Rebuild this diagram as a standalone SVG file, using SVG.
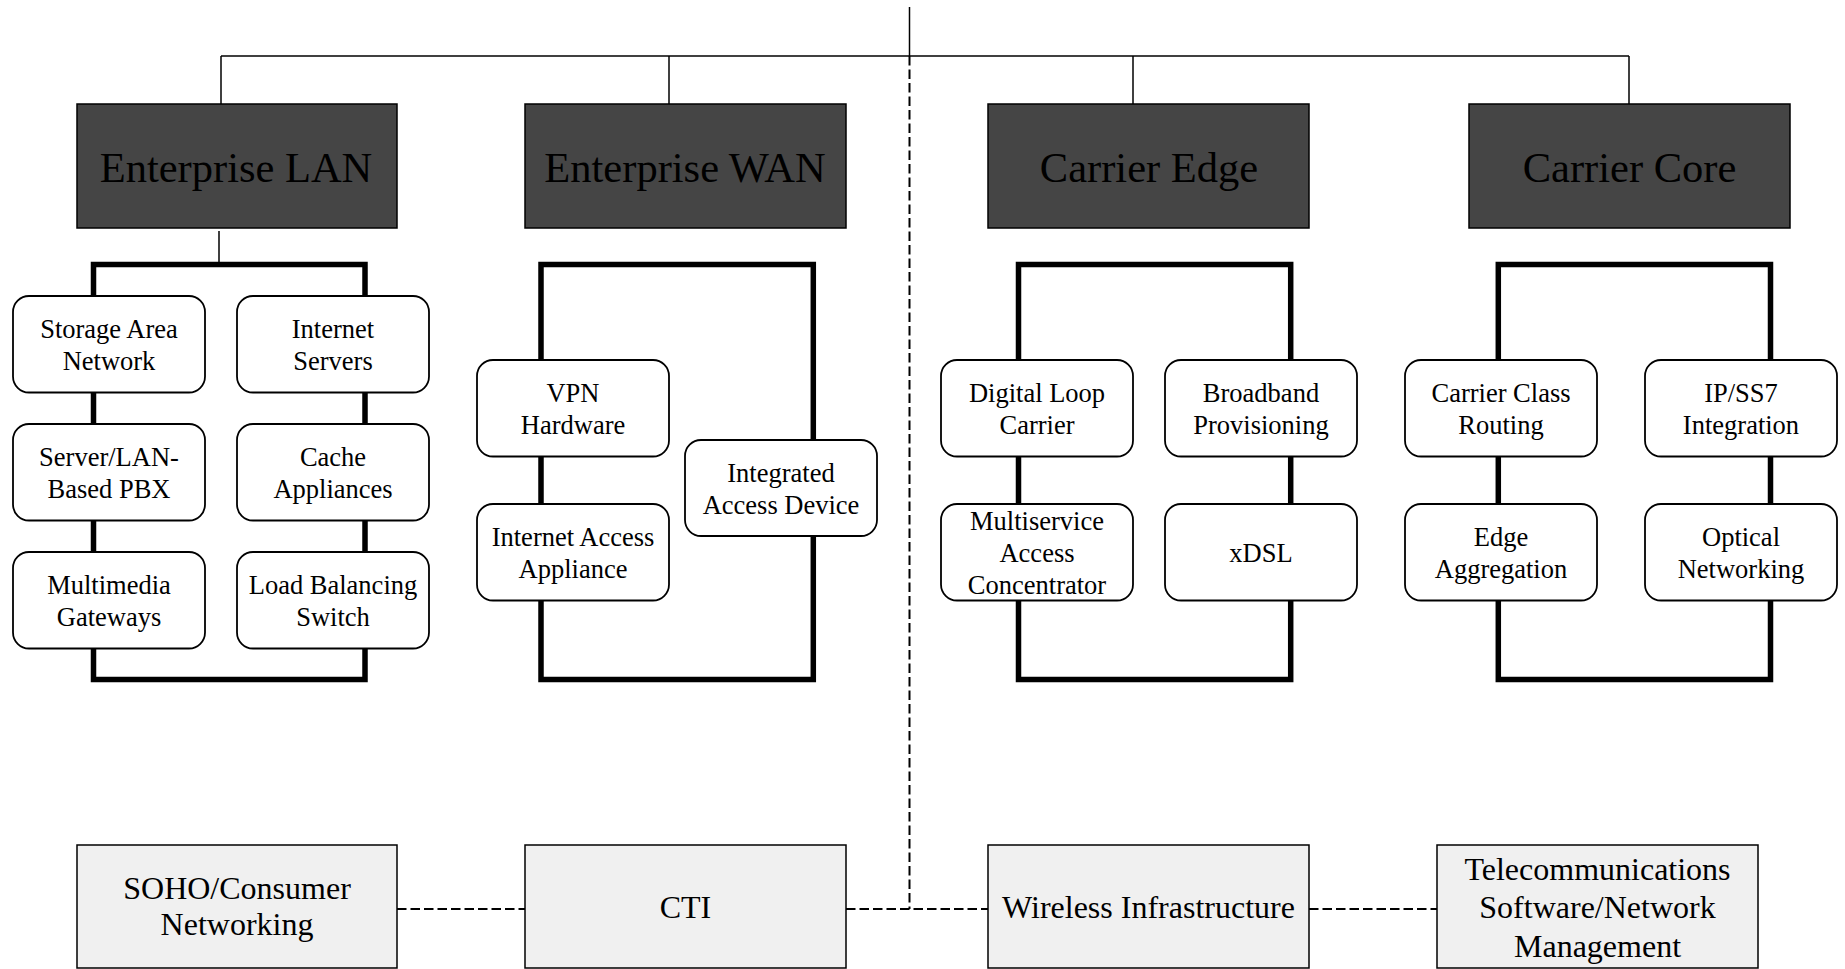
<svg xmlns="http://www.w3.org/2000/svg" width="1845" height="969" viewBox="0 0 1845 969">
<style>
.bg{fill:#ffffff}
.cat{fill:#454545;stroke:#000;stroke-width:1.5}
.cat-t{font-family:"Liberation Serif","Times New Roman",serif;font-size:42.5px;fill:#000;text-anchor:middle}
.frame{fill:none;stroke:#000;stroke-width:5.5}
.item{fill:#fff;stroke:#000;stroke-width:1.8}
.item-t{font-family:"Liberation Serif","Times New Roman",serif;font-size:26.5px;fill:#000;text-anchor:middle}
.other{fill:#f0f0f0;stroke:#000;stroke-width:1.5}
.other-t{font-family:"Liberation Serif","Times New Roman",serif;font-size:32px;fill:#000;text-anchor:middle}
.line{fill:none;stroke:#000;stroke-width:1.5}
.dash{fill:none;stroke:#000;stroke-width:2;stroke-dasharray:9.5 4}
</style>
<rect class="bg" x="0" y="0" width="1845" height="969"/>

<g id="connectors">
  <line class="line" x1="909.5" y1="7" x2="909.5" y2="56"/>
  <line class="line" x1="221" y1="56" x2="1629" y2="56"/>
  <line class="line" x1="221" y1="56" x2="221" y2="104"/>
  <line class="line" x1="669" y1="56" x2="669" y2="104"/>
  <line class="line" x1="1133" y1="56" x2="1133" y2="104"/>
  <line class="line" x1="1629" y1="56" x2="1629" y2="104"/>
  <line class="line" x1="219" y1="231" x2="219" y2="264"/>
  <line class="dash" x1="909.5" y1="56" x2="909.5" y2="909"/>
  <line class="dash" x1="397" y1="909" x2="525" y2="909"/>
  <line class="dash" x1="846" y1="909" x2="988" y2="909"/>
  <line class="dash" x1="1309" y1="909" x2="1437" y2="909"/>
</g>

<g id="frames">
  <rect class="frame" x="93.5" y="264.5" width="271.5" height="415"/>
  <rect class="frame" x="541" y="264.5" width="272.3" height="415"/>
  <rect class="frame" x="1018.5" y="264.5" width="272.2" height="415"/>
  <rect class="frame" x="1498.3" y="264.5" width="272.2" height="415"/>
</g>

<g id="enterprise-lan">
  <rect class="cat" x="77" y="104" width="320" height="124"/>
  <text class="cat-t" x="236" y="182">Enterprise LAN</text>
</g>
<g id="enterprise-wan">
  <rect class="cat" x="525" y="104" width="321" height="124"/>
  <text class="cat-t" x="685" y="182">Enterprise WAN</text>
</g>
<g id="carrier-edge">
  <rect class="cat" x="988" y="104" width="321" height="124"/>
  <text class="cat-t" x="1149" y="182">Carrier Edge</text>
</g>
<g id="carrier-core">
  <rect class="cat" x="1469" y="104" width="321" height="124"/>
  <text class="cat-t" x="1629.5" y="182">Carrier Core</text>
</g>

<g id="storage-area-network">
  <rect class="item" x="13" y="296" width="192" height="96.5" rx="16"/>
  <text class="item-t" x="109" y="337.5">Storage Area</text>
  <text class="item-t" x="109" y="369.5">Network</text>
</g>
<g id="internet-servers">
  <rect class="item" x="237" y="296" width="192" height="96.5" rx="16"/>
  <text class="item-t" x="333" y="337.5">Internet</text>
  <text class="item-t" x="333" y="369.5">Servers</text>
</g>
<g id="server-lan-pbx">
  <rect class="item" x="13" y="424" width="192" height="96.5" rx="16"/>
  <text class="item-t" x="109" y="465.5">Server/LAN-</text>
  <text class="item-t" x="109" y="497.5">Based PBX</text>
</g>
<g id="cache-appliances">
  <rect class="item" x="237" y="424" width="192" height="96.5" rx="16"/>
  <text class="item-t" x="333" y="465.5">Cache</text>
  <text class="item-t" x="333" y="497.5">Appliances</text>
</g>
<g id="multimedia-gateways">
  <rect class="item" x="13" y="552" width="192" height="96.5" rx="16"/>
  <text class="item-t" x="109" y="593.5">Multimedia</text>
  <text class="item-t" x="109" y="625.5">Gateways</text>
</g>
<g id="load-balancing-switch">
  <rect class="item" x="237" y="552" width="192" height="96.5" rx="16"/>
  <text class="item-t" x="333" y="593.5">Load Balancing</text>
  <text class="item-t" x="333" y="625.5">Switch</text>
</g>

<g id="vpn-hardware">
  <rect class="item" x="477" y="360" width="192" height="96.5" rx="16"/>
  <text class="item-t" x="573" y="401.5">VPN</text>
  <text class="item-t" x="573" y="433.5">Hardware</text>
</g>
<g id="internet-access-appliance">
  <rect class="item" x="477" y="504" width="192" height="96.5" rx="16"/>
  <text class="item-t" x="573" y="545.5">Internet Access</text>
  <text class="item-t" x="573" y="577.5">Appliance</text>
</g>
<g id="integrated-access-device">
  <rect class="item" x="685" y="440" width="192" height="96" rx="16"/>
  <text class="item-t" x="781" y="481.5">Integrated</text>
  <text class="item-t" x="781" y="513.5">Access Device</text>
</g>

<g id="digital-loop-carrier">
  <rect class="item" x="941" y="360" width="192" height="96.5" rx="16"/>
  <text class="item-t" x="1037" y="401.5">Digital Loop</text>
  <text class="item-t" x="1037" y="433.5">Carrier</text>
</g>
<g id="broadband-provisioning">
  <rect class="item" x="1165" y="360" width="192" height="96.5" rx="16"/>
  <text class="item-t" x="1261" y="401.5">Broadband</text>
  <text class="item-t" x="1261" y="433.5">Provisioning</text>
</g>
<g id="multiservice-access-concentrator">
  <rect class="item" x="941" y="504" width="192" height="96.5" rx="16"/>
  <text class="item-t" x="1037" y="529.5">Multiservice</text>
  <text class="item-t" x="1037" y="561.5">Access</text>
  <text class="item-t" x="1037" y="593.5">Concentrator</text>
</g>
<g id="xdsl">
  <rect class="item" x="1165" y="504" width="192" height="96.5" rx="16"/>
  <text class="item-t" x="1261" y="561.5">xDSL</text>
</g>

<g id="carrier-class-routing">
  <rect class="item" x="1405" y="360" width="192" height="96.5" rx="16"/>
  <text class="item-t" x="1501" y="401.5">Carrier Class</text>
  <text class="item-t" x="1501" y="433.5">Routing</text>
</g>
<g id="ip-ss7-integration">
  <rect class="item" x="1645" y="360" width="192" height="96.5" rx="16"/>
  <text class="item-t" x="1741" y="401.5">IP/SS7</text>
  <text class="item-t" x="1741" y="433.5">Integration</text>
</g>
<g id="edge-aggregation">
  <rect class="item" x="1405" y="504" width="192" height="96.5" rx="16"/>
  <text class="item-t" x="1501" y="545.5">Edge</text>
  <text class="item-t" x="1501" y="577.5">Aggregation</text>
</g>
<g id="optical-networking">
  <rect class="item" x="1645" y="504" width="192" height="96.5" rx="16"/>
  <text class="item-t" x="1741" y="545.5">Optical</text>
  <text class="item-t" x="1741" y="577.5">Networking</text>
</g>

<g id="soho-consumer-networking">
  <rect class="other" x="77" y="845" width="320" height="123"/>
  <text class="other-t" x="237" y="899">SOHO/Consumer</text>
  <text class="other-t" x="237" y="935">Networking</text>
</g>
<g id="cti">
  <rect class="other" x="525" y="845" width="321" height="123"/>
  <text class="other-t" x="685.5" y="917.5">CTI</text>
</g>
<g id="wireless-infrastructure">
  <rect class="other" x="988" y="845" width="321" height="123"/>
  <text class="other-t" x="1148.5" y="917.5">Wireless Infrastructure</text>
</g>
<g id="telecom-software-network-management">
  <rect class="other" x="1437" y="845" width="321" height="123"/>
  <text class="other-t" x="1597.5" y="879.5">Telecommunications</text>
  <text class="other-t" x="1597.5" y="918">Software/Network</text>
  <text class="other-t" x="1597.5" y="956.5">Management</text>
</g>
</svg>
